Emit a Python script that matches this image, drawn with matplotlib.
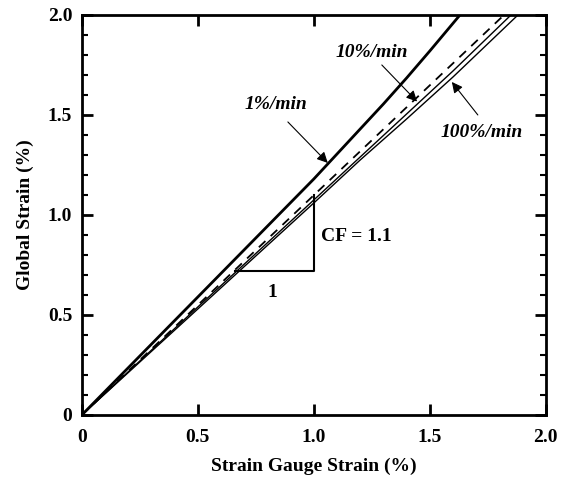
import matplotlib
matplotlib.use('Agg')
import matplotlib.pyplot as plt
from matplotlib.ticker import MultipleLocator

# strain gauge strain (%) vs global strain (%)
x_1pm = [0, 0.25, 0.5, 0.75, 1.0, 1.2, 1.3, 1.4, 1.5, 1.63]
y_1pm = [0, 0.295, 0.59, 0.885, 1.18, 1.43, 1.555, 1.685, 1.82, 2.0]

x_10pm = [0, 0.5, 1.0, 1.2, 1.4, 1.6, 1.85]
y_10pm = [0, 0.54, 1.075, 1.29, 1.505, 1.72, 2.0]

x_100pm = [0, 0.5, 1.0, 1.2, 1.4, 1.6, 1.88]
y_100pm = [0, 0.53, 1.06, 1.275, 1.48, 1.69, 2.0]

# CF = 1.1 reference line
x_fit = [0, 1.82]
y_fit = [0, 2.0]

# slope triangle
tri_x = [0.66, 1.0, 1.0]
tri_y = [0.72, 0.72, 1.1]

ticks = [0, 0.5, 1.0, 1.5, 2.0]
tick_labels = ['0', '0.5', '1.0', '1.5', '2.0']

plt.rcParams['font.family'] = 'Liberation Serif'
plt.rcParams['font.weight'] = 'bold'

fig = plt.figure(figsize=(5.65, 4.83), dpi=100)
ax = fig.add_axes([0.145, 0.141, 0.821, 0.828])

ax.plot(x_1pm, y_1pm, color='black', lw=2.0)
ax.plot(x_fit, y_fit, color='black', lw=1.3, ls=(0, (5, 4)))
ax.plot(x_10pm, y_10pm, color='black', lw=1.0)
ax.plot(x_100pm, y_100pm, color='black', lw=1.0)
ax.plot(tri_x, tri_y, color='black', lw=1.5)

ax.set_xlim(0, 2)
ax.set_ylim(0, 2)
ax.set_xticks(ticks)
ax.set_xticklabels(tick_labels)
ax.set_yticks(ticks)
ax.set_yticklabels(tick_labels)
ax.yaxis.set_minor_locator(MultipleLocator(0.1))

ax.tick_params(which='both', direction='in', top=True, right=True, labelsize=14)
ax.tick_params(which='major', length=8, width=2)
ax.tick_params(which='minor', length=4, width=1.5)
ax.tick_params(axis='x', pad=10)
ax.tick_params(axis='y', pad=7)
for s in ax.spines.values():
    s.set_linewidth(2)

ax.set_xlabel('Strain Gauge Strain (%)', fontsize=14, fontweight='bold')
ax.set_ylabel('Global Strain (%)', fontsize=14, fontweight='bold', labelpad=10)
ax.xaxis.set_label_coords(0.5, -0.107)

ax.text(1.03, 0.89, 'CF = 1.1', fontsize=14, fontweight='bold', va='center')
ax.text(0.82, 0.61, '1', fontsize=14, fontweight='bold', ha='center', va='center')

lab = dict(fontsize=14, fontstyle='italic', fontweight='bold', ha='center', va='center')
arrow = dict(arrowstyle='-|>', color='black', lw=0.8, mutation_scale=16,
             shrinkA=0, shrinkB=0)

ax.text(0.836, 1.55, '1%/min', **lab)
ax.annotate('', xy=(1.06, 1.26), xytext=(0.888, 1.465), arrowprops=arrow)
ax.text(1.25, 1.81, '10%/min', **lab)
ax.annotate('', xy=(1.445, 1.567), xytext=(1.293, 1.75), arrowprops=arrow)
ax.text(1.724, 1.41, '100%/min', **lab)
ax.annotate('', xy=(1.595, 1.665), xytext=(1.707, 1.5), arrowprops=arrow)

fig.savefig('out.png', dpi=100)
plt.close(fig)
